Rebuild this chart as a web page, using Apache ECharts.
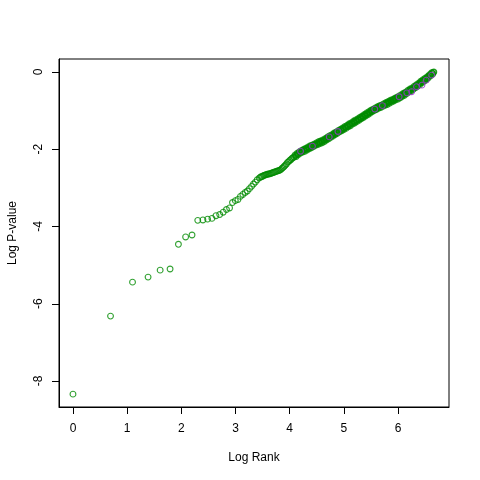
<!DOCTYPE html>
<html>
<head>
<meta charset="utf-8">
<script src="https://cdn.jsdelivr.net/npm/echarts@6/dist/echarts.min.js"></script>
<style>html,body{margin:0;padding:0;background:#fff}#c{width:480px;height:480px}</style>
</head>
<body>
<div id="c"></div>
<script>
// Individually visible points (low ranks)
const sparseLogRank = [0, 0.693, 1.099, 1.386, 1.609, 1.792, 1.946, 2.079, 2.197, 2.303,
  2.398, 2.485, 2.565, 2.639, 2.708, 2.773, 2.833, 2.890, 2.944, 2.996,
  3.045, 3.091, 3.135, 3.178, 3.219, 3.258, 3.296, 3.332, 3.367, 3.401];
const sparseLogP = [-8.34, -6.32, -5.44, -5.31, -5.13, -5.10, -4.46, -4.27, -4.22, -3.84,
  -3.83, -3.81, -3.79, -3.72, -3.69, -3.63, -3.56, -3.52, -3.38, -3.33,
  -3.30, -3.22, -3.17, -3.12, -3.08, -3.02, -2.96, -2.90, -2.85, -2.79];

// Dense band (high ranks), read along the band (upper / lower edge of the band)
const denseLogRank = [
  3.44,3.46,3.48,3.50,3.52,3.54,3.56,3.58,3.60,3.62,
  3.64,3.66,3.68,3.70,3.72,3.74,3.76,3.78,3.80,3.82,
  3.84,3.86,3.88,3.90,3.92,3.94,3.96,3.98,4.00,4.02,
  4.04,4.06,4.08,4.10,4.12,4.14,4.16,4.18,4.20,4.22,
  4.24,4.26,4.28,4.30,4.32,4.34,4.36,4.38,4.40,4.42,
  4.44,4.46,4.48,4.50,4.52,4.54,4.56,4.58,4.60,4.62,
  4.64,4.66,4.68,4.70,4.72,4.74,4.76,4.78,4.80,4.82,
  4.84,4.86,4.88,4.90,4.92,4.94,4.96,4.98,5.00,5.02,
  5.04,5.06,5.08,5.10,5.12,5.14,5.16,5.18,5.20,5.22,
  5.24,5.26,5.28,5.30,5.32,5.34,5.36,5.38,5.40,5.42,
  5.44,5.46,5.48,5.50,5.52,5.54,5.56,5.58,5.60,5.62,
  5.64,5.66,5.68,5.70,5.72,5.74,5.76,5.78,5.80,5.82,
  5.84,5.86,5.88,5.90,5.92,5.94,5.96,5.98,6.00,6.02,
  6.04,6.06,6.08,6.10,6.12,6.14,6.16,6.18,6.20,6.22,
  6.24,6.26,6.28,6.30,6.32,6.34,6.36,6.38,6.40,6.42,
  6.44,6.46,6.48,6.50,6.52,6.54,6.56,6.58,6.60,6.62,
  6.64,6.66];
const denseLogP = [
  -2.74,-2.72,-2.71,-2.70,-2.68,-2.67,-2.66,-2.65,-2.64,-2.64,
  -2.63,-2.62,-2.61,-2.60,-2.59,-2.58,-2.57,-2.56,-2.55,-2.54,
  -2.52,-2.49,-2.47,-2.44,-2.41,-2.38,-2.34,-2.32,-2.29,-2.27,
  -2.24,-2.22,-2.20,-2.15,-2.19,-2.10,-2.14,-2.06,-2.10,-2.03,
  -2.07,-2.00,-2.05,-1.97,-2.02,-1.94,-1.99,-1.91,-1.96,-1.89,
  -1.93,-1.86,-1.90,-1.83,-1.88,-1.80,-1.85,-1.78,-1.83,-1.75,
  -1.80,-1.72,-1.76,-1.68,-1.73,-1.65,-1.69,-1.62,-1.66,-1.58,
  -1.62,-1.55,-1.59,-1.51,-1.55,-1.48,-1.52,-1.45,-1.49,-1.41,
  -1.46,-1.38,-1.42,-1.34,-1.39,-1.31,-1.35,-1.27,-1.32,-1.24,
  -1.28,-1.21,-1.25,-1.17,-1.21,-1.14,-1.18,-1.10,-1.14,-1.06,
  -1.11,-1.03,-1.07,-0.99,-1.03,-0.96,-1.00,-0.93,-0.97,-0.90,
  -0.94,-0.87,-0.92,-0.85,-0.89,-0.82,-0.86,-0.79,-0.84,-0.76,
  -0.81,-0.73,-0.78,-0.71,-0.75,-0.68,-0.72,-0.65,-0.70,-0.62,
  -0.67,-0.59,-0.63,-0.55,-0.60,-0.52,-0.56,-0.48,-0.52,-0.44,
  -0.49,-0.41,-0.45,-0.37,-0.41,-0.33,-0.37,-0.29,-0.33,-0.24,
  -0.28,-0.20,-0.24,-0.16,-0.20,-0.12,-0.15,-0.07,-0.10,-0.02,
  -0.05,0.00];

// Dense band, centre of the band (the solid part)
const bandCentreLogRank = [
  4.11,4.13,4.15,4.17,4.19,4.21,4.23,4.25,4.27,4.29,
  4.31,4.33,4.35,4.37,4.39,4.41,4.43,4.45,4.47,4.49,
  4.51,4.53,4.55,4.57,4.59,4.61,4.63,4.65,4.67,4.69,
  4.71,4.73,4.75,4.77,4.79,4.81,4.83,4.85,4.87,4.89,
  4.91,4.93,4.95,4.97,4.99,5.01,5.03,5.05,5.07,5.09,
  5.11,5.13,5.15,5.17,5.19,5.21,5.23,5.25,5.27,5.29,
  5.31,5.33,5.35,5.37,5.39,5.41,5.43,5.45,5.47,5.49,
  5.51,5.53,5.55,5.57,5.59,5.61,5.63,5.65,5.67,5.69,
  5.71,5.73,5.75,5.77,5.79,5.81,5.83,5.85,5.87,5.89,
  5.91,5.93,5.95,5.97,5.99,6.01,6.03,6.05,6.07,6.09,
  6.11,6.13,6.15,6.17,6.19,6.21,6.23,6.25,6.27,6.29,
  6.31,6.33,6.35,6.37,6.39,6.41,6.43,6.45,6.47,6.49,
  6.51,6.53,6.55,6.57,6.59,6.61,6.63,6.65];
const bandCentreLogP = [
  -2.17,-2.14,-2.12,-2.10,-2.08,-2.06,-2.05,-2.03,-2.02,-2.01,
  -1.99,-1.98,-1.96,-1.95,-1.93,-1.92,-1.91,-1.89,-1.88,-1.86,
  -1.85,-1.84,-1.82,-1.81,-1.80,-1.79,-1.77,-1.76,-1.74,-1.72,
  -1.70,-1.69,-1.67,-1.65,-1.64,-1.62,-1.60,-1.58,-1.57,-1.55,
  -1.53,-1.51,-1.50,-1.48,-1.47,-1.45,-1.43,-1.42,-1.40,-1.38,
  -1.36,-1.35,-1.33,-1.31,-1.29,-1.28,-1.26,-1.24,-1.23,-1.21,
  -1.19,-1.17,-1.16,-1.14,-1.12,-1.10,-1.08,-1.07,-1.05,-1.03,
  -1.01,-0.99,-0.98,-0.96,-0.95,-0.93,-0.92,-0.90,-0.89,-0.88,
  -0.87,-0.85,-0.84,-0.82,-0.81,-0.80,-0.78,-0.77,-0.75,-0.74,
  -0.73,-0.71,-0.70,-0.68,-0.67,-0.66,-0.64,-0.63,-0.61,-0.59,
  -0.57,-0.56,-0.54,-0.52,-0.50,-0.48,-0.46,-0.45,-0.43,-0.41,
  -0.39,-0.37,-0.35,-0.33,-0.31,-0.28,-0.26,-0.24,-0.22,-0.20,
  -0.18,-0.16,-0.13,-0.11,-0.08,-0.06,-0.03,-0.01];

// Highlighted (purple) points
const highlightLogRank = [4.20, 4.42, 4.73, 4.89, 5.57, 5.71, 6.02, 6.16, 6.25, 6.34, 6.44, 6.52, 6.62];
const highlightLogP = [-2.05, -1.92, -1.68, -1.54, -0.96, -0.87, -0.64, -0.54, -0.51, -0.38, -0.34, -0.21, -0.08];

const xTicks = [0, 1, 2, 3, 4, 5, 6];
const yTicks = [-8, -6, -4, -2, 0];

const greenData = [];
sparseLogRank.forEach((x, i) => greenData.push([x, sparseLogP[i]]));
denseLogRank.forEach((x, i) => greenData.push([x, denseLogP[i]]));
bandCentreLogRank.forEach((x, i) => greenData.push([x, bandCentreLogP[i]]));
const purpleData = highlightLogRank.map((x, i) => [x, highlightLogP[i]]);

const font = 'Liberation Sans, Arial, Helvetica, sans-serif';
const chart = echarts.init(document.getElementById('c'), null, {renderer: 'canvas'});
chart.setOption({
  backgroundColor: '#ffffff',
  animation: false,
  grid: {left: 59, right: 31, top: 59, bottom: 73, containLabel: false, outerBoundsMode: 'none',
         show: true, borderColor: '#000', borderWidth: 1, backgroundColor: 'transparent'},
  xAxis: {
    type: 'value', min: -0.258, max: 6.94,
    name: 'Log Rank', nameLocation: 'middle', nameGap: 45,
    nameTextStyle: {fontFamily: font, fontSize: 12, color: '#000'},
    axisLine: {show: true, onZero: false, lineStyle: {color: '#000', width: 1}},
    axisTick: {show: true, length: 7, customValues: xTicks, lineStyle: {color: '#000'}},
    axisLabel: {customValues: xTicks, margin: 16, fontFamily: font, fontSize: 12, color: '#000'},
    splitLine: {show: false}
  },
  yAxis: {
    type: 'value', min: -8.673, max: 0.337,
    name: 'Log P-value', nameLocation: 'middle', nameGap: 40, nameRotate: 90,
    nameTextStyle: {fontFamily: font, fontSize: 12, color: '#000'},
    axisLine: {show: true, onZero: false, lineStyle: {color: '#000', width: 1}},
    axisTick: {show: true, length: 7, customValues: yTicks, lineStyle: {color: '#000'}},
    axisLabel: {customValues: yTicks, margin: 14, rotate: 90, fontFamily: font, fontSize: 12, color: '#000'},
    splitLine: {show: false}
  },
  series: [
    {type: 'scatter', data: greenData, symbol: 'circle', symbolSize: 5.8,
     itemStyle: {color: 'rgba(0,0,0,0)', borderColor: '#008B00', borderWidth: 1.1}, emphasis: {disabled: true}},
    {type: 'scatter', data: purpleData, symbol: 'circle', symbolSize: 5.8,
     itemStyle: {color: 'rgba(0,0,0,0)', borderColor: '#9A32CD', borderWidth: 1.1}, emphasis: {disabled: true}}
  ]
});
</script>
</body>
</html>
